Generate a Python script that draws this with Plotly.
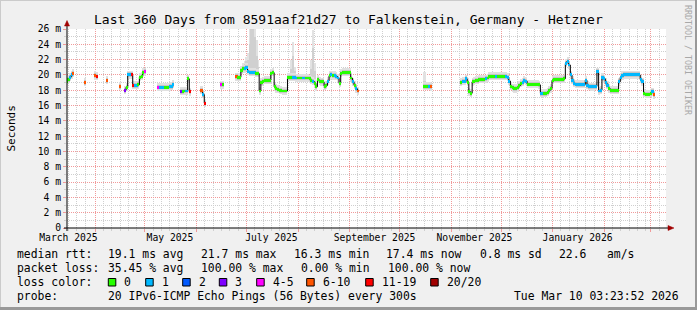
import plotly.graph_objects as go
import pandas as pd

# ---------------- data ----------------
START = pd.Timestamp("2025-03-15 03:23:52")
END = pd.Timestamp("2026-03-10 03:23:52")

# day offsets from START; an entry with None median marks a gap (100 % loss)
day_offset = [
    0, 1, 2, 3, 4, 5,
    11, 12,
    17, 18, 19,
    24, 25,
    32, 33,
    35, 36, 37, 38, 39, 40, 41, 42, 43, 44, 45, 46, 47, 48,
    55, 56, 57, 58, 59, 60, 61, 62, 63, 64, 65,
    69, 70, 71, 72, 73, 74, 75,
    81, 82, 83, 84,
    93, 94, 95,
    102, 103, 104, 105, 106, 107, 108, 109, 110, 111,
    112, 113, 114, 115, 116, 117, 118, 119, 120, 121,
    122, 123, 124, 125, 126, 127, 128, 129, 130, 131,
    132, 133, 134, 135, 136, 137, 138, 139, 140, 141,
    142, 143, 144, 145, 146, 147, 148, 149, 150, 151,
    152, 153, 154, 155, 156, 157, 158, 159, 160, 161,
    162, 163, 164, 165, 166, 167, 168, 169, 170, 171,
    172, 173, 174, 175, 176,
    215, 216, 217, 218, 219, 220,
    237, 238, 239, 240, 241, 242, 243, 244, 245, 246,
    247, 248, 249, 250, 251, 252, 253, 254, 255, 256,
    257, 258, 259, 260, 261, 262, 263, 264, 265, 266,
    267, 268, 269, 270, 271, 272, 273, 274, 275, 276,
    277, 278, 279, 280, 281, 282, 283, 284, 285, 286,
    287, 288, 289, 290, 291, 292, 293, 294, 295, 296,
    297, 298, 299, 300, 301, 302, 303, 304, 305, 306,
    307, 308, 309, 310, 311, 312, 313, 314, 315, 316,
    317, 318, 319, 320, 321, 322, 323, 324, 325, 326,
    327, 328, 329, 330, 331, 332, 333, 334, 335, 336,
    337, 338, 339, 340, 341, 342, 343, 344, 345, 346,
    347, 348, 349, 350, 351, 352, 353,
]

median_ms = [
    19.2, 19.4, 19.7, 20.0, 20.2, None,
    19.0, None,
    19.9, 19.8, None,
    19.3, None,
    18.5, None,
    18.0, 18.4, 20.0, 20.0, 20.0, 18.6, 18.6, 18.6, 18.7, 19.7, 19.8, 20.3, 20.4, None,
    18.4, 18.4, 18.4, 18.4, 18.4, 18.4, 18.4, 18.45, 18.5, 18.75, None,
    17.85, 17.85, 17.9, 17.9, 19.5, 17.8, None,
    18.0, 17.45, 16.3, None,
    18.7, 18.7, None,
    19.75, 19.7, 19.7, 20.6, 20.8, 20.8, 21.0, 20.5, 20.3, 20.3,
    20.3, 20.3, 20.2, 20.2, 17.9, 19.0, 19.2, 19.3, 19.3, 19.3,
    19.3, 20.2, 20.3, 18.45, 18.2, 18.1, 18.0, 17.95, 17.9, 17.9,
    17.9, 19.65, 19.7, 19.7, 19.65, 19.65, 19.6, 19.6, 19.6, 19.6,
    19.6, 19.6, 19.6, 19.6, 19.5, 19.3, 19.2, 18.9, 18.45, 19.4,
    19.2, 19.1, 19.1, 18.5, 18.6, 19.2, 19.9, 20.0, 19.9, 19.9,
    19.8, 19.6, 18.9, 20.2, 20.3, 20.3, 20.3, 20.3, 20.3, 19.6,
    19.1, 18.65, 18.2, 17.9, None,
    18.5, 18.5, 18.5, 18.5, 18.45, None,
    19.0, 19.2, 19.2, 19.5, 19.0, 17.8, 17.6, 19.1, 19.2, 19.3,
    19.3, 19.4, 19.4, 19.4, 19.4, 19.5, 19.6, 19.8, 19.8, 19.8,
    19.8, 19.8, 19.8, 19.8, 19.8, 19.8, 19.8, 19.8, 19.7, 19.2,
    18.5, 18.3, 18.2, 18.2, 18.3, 18.6, 18.9, 19.0, 19.3, 19.2,
    18.8, 18.8, 18.8, 18.8, 18.8, 18.8, 18.8, 18.7, 17.6, 17.6,
    17.6, 17.6, 17.7, 18.0, 18.2, 19.3, 19.4, 19.4, 19.4, 19.4,
    19.4, 19.4, 19.5, 21.5, 21.8, 21.3, 20.0, 19.3, 18.9, 18.8,
    18.75, 18.75, 18.75, 18.75, 18.75, 19.3, 18.6, 18.5, 18.45, 18.45,
    18.45, 18.5, 20.4, 17.9, 18.0, 19.7, 19.5, 19.0, 18.6, 18.2,
    18.0, 18.0, 18.0, 18.0, 18.0, 19.1, 19.7, 19.9, 20.0, 20.0,
    20.0, 20.0, 20.0, 20.0, 20.0, 20.0, 20.0, 20.0, 19.4, 19.1,
    17.6, 17.5, 17.5, 17.5, 17.6, 17.8, 17.4,
]

# pings lost out of 20 for each sample
lost_pings = [
    0, 0, 1, 1, 8, None,
    8, None,
    8, 15, None,
    8, None,
    8, None,
    3, 0, 1, 1, 15, 15, 1, 1, 0, 0, 0, 0, 5, None,
    5, 1, 1, 1, 0, 0, 0, 1, 1, 1, None,
    3, 0, 0, 1, 0, 15, None,
    8, 1, 15, None,
    5, 0, None,
    8, 0, 0, 0, 0, 1, 1, 1, 1, 1,
    1, 1, 0, 0, 0, 0, 0, 0, 0, 0,
    0, 0, 0, 0, 0, 0, 0, 0, 0, 0,
    0, 0, 0, 0, 1, 1, 1, 0, 0, 0,
    1, 1, 0, 0, 0, 0, 1, 0, 0, 0,
    0, 0, 0, 0, 0, 1, 0, 1, 0, 1,
    1, 1, 0, 0, 0, 0, 0, 0, 0, 0,
    1, 0, 1, 8, None,
    0, 0, 0, 1, 8, None,
    0, 1, 1, 1, 0, 0, 0, 0, 0, 0,
    0, 0, 0, 0, 0, 1, 0, 0, 0, 0,
    0, 1, 0, 0, 0, 0, 0, 1, 1, 1,
    0, 0, 0, 0, 0, 0, 0, 1, 1, 1,
    0, 0, 0, 0, 0, 0, 0, 0, 1, 1,
    0, 0, 0, 0, 0, 0, 0, 0, 0, 0,
    0, 0, 0, 1, 1, 1, 1, 1, 1, 1,
    1, 1, 1, 1, 1, 1, 1, 1, 1, 1,
    1, 1, 1, 1, 1, 1, 1, 1, 1, 0,
    0, 0, 0, 0, 0, 1, 1, 1, 1, 1,
    1, 1, 1, 1, 1, 1, 1, 1, 1, 1,
    0, 0, 0, 0, 0, 1, 8,
]

# tall smoke (ping spread) columns
spike_day = [106, 107, 108, 109, 110, 111, 112, 113, 114, 115, 135, 136, 137, 147, 148, 149, 215]
spike_low_ms = [20.4, 20.4, 20.6, 20.1, 19.9, 19.9, 19.9, 19.9, 19.8, 19.8, 19.3, 19.3, 19.3, 18.9, 18.8, 18.5, 18.1]
spike_high_ms = [21.5, 21.8, 22.3, 22.8, 26.5, 26.5, 26.5, 26.5, 24.5, 22.0, 22.0, 24.3, 21.0, 22.0, 25.9, 21.5, 20.4]
spike_core_ms = [21.2, 21.4, 21.8, 22.0, 24.0, 26.5, 26.5, 25.0, 22.5, 21.0, 20.8, 22.5, 20.5, 20.8, 23.5, 20.5, 19.2]

loss_upper = [0, 1, 2, 3, 5, 10, 19, 20]
loss_labels = ["0", "1", "2", "3", "4-5", "6-10", "11-19", "20/20"]
loss_colors = ["#26ff00", "#00b8ff", "#0059ff", "#7e00ff", "#ff00ff", "#ff5500", "#ff0000", "#a10000"]

y_tick_vals = [0, 2, 4, 6, 8, 10, 12, 14, 16, 18, 20, 22, 24, 26]
y_tick_text = ["0", "2 m", "4 m", "6 m", "8 m", "10 m", "12 m", "14 m", "16 m", "18 m",
               "20 m", "22 m", "24 m", "26 m"]
x_label_dates = ["2025-03-16", "2025-05-16", "2025-07-16", "2025-09-16", "2025-11-15", "2026-01-16"]
x_label_text = ["March 2025", "May 2025", "July 2025", "September 2025", "November 2025", "January 2026"]

title_text = "Last 360 Days from 8591aaf21d27 to Falkenstein, Germany - Hetzner"
legend_rows = [
    [(16.3, "median rtt:"), (107.3, "19.1 ms avg"), (200, "21.7 ms max"), (293.3, "16.3 ms min"),
     (385, "17.4 ms now"), (479.3, "0.8 ms sd"), (558.3, "22.6   am/s")],
    [(16.3, "packet loss:"), (107.3, "35.45 % avg"), (200, "100.00 % max"), (300, "0.00 % min"),
     (386.7, "100.00 % now")],
    [(16.3, "loss color:")],
    [(16.3, "probe:"), (107.3, "20 IPv6-ICMP Echo Pings (56 Bytes) every 300s"),
     (513.3, "Tue Mar 10 03:23:52 2026")],
]
legend_row_y = [254.3, 268.3, 282.3, 296.0]
swatch_x = [108.3, 145.7, 182.7, 219.3, 256.7, 306.7, 365.7, 430.7]

# ---------------- geometry / style ----------------
W, H = 697, 310
L, R, T, B = 67, 31, 29, 82
PW, PH = W - L - R, H - T - B
FONT = "DejaVu Sans Mono"
MAJOR = "#f19a9a"
MINOR = "#cfcfcf"
DAY_MS = 86400000


def pu(px):
    return (px - L) / PW


def pv(py):
    return (T + PH - py) / PH


def loss_color(n):
    for up, c in zip(loss_upper, loss_colors):
        if n <= up:
            return c
    return loss_colors[-1]


dates = [START + pd.Timedelta(days=d) for d in day_offset]
valid = [i for i, m in enumerate(median_ms) if m is not None]
vd = [dates[i] for i in valid]
vm = [median_ms[i] for i in valid]
vc = [loss_color(lost_pings[i]) for i in valid]
sd = [START + pd.Timedelta(days=d) for d in spike_day]

fig = go.Figure()
# smoke spikes
fig.add_trace(go.Bar(x=sd, base=spike_low_ms, y=[h - l for h, l in zip(spike_high_ms, spike_low_ms)],
                     width=DAY_MS, marker=dict(color="#e2e2e2", line=dict(width=0)), hoverinfo="skip"))
fig.add_trace(go.Bar(x=sd, base=spike_low_ms, y=[h - l for h, l in zip(spike_core_ms, spike_low_ms)],
                     width=DAY_MS, marker=dict(color="#d0d0d0", line=dict(width=0)), hoverinfo="skip"))
# smoke halo around median
fig.add_trace(go.Bar(x=vd, base=[m - 0.5 for m in vm], y=[1.05] * len(vm), width=DAY_MS,
                     marker=dict(color="#e0e0e0", line=dict(width=0)), hoverinfo="skip"))
fig.add_trace(go.Bar(x=vd, base=[m - 0.3 for m in vm], y=[0.62] * len(vm), width=DAY_MS,
                     marker=dict(color="#c6c6c6", line=dict(width=0)), hoverinfo="skip"))
# black median line
fig.add_trace(go.Scatter(x=dates, y=median_ms, mode="lines", line=dict(color="#000000", width=1, shape="hvh"),
                         connectgaps=False, hoverinfo="skip"))
# loss coloured median band (on overlay axes so it sits above the black line)
fig.add_trace(go.Bar(x=vd, base=[m - 0.19 for m in vm], y=[0.38] * len(vm), width=DAY_MS,
                     marker=dict(color=vc, line=dict(width=0)), xaxis="x2", yaxis="y2", hoverinfo="skip"))

month_starts = pd.date_range("2025-04-01", "2026-03-01", freq="MS")
minor_days = [m + pd.Timedelta(days=k) for m in pd.date_range("2025-03-01", "2026-03-01", freq="MS")
              for k in (5, 10, 15, 20, 25)]
minor_days = [d for d in minor_days if START < d < END]

fig.update_layout(
    width=W, height=H, template="none",
    margin=dict(l=L, r=R, t=T, b=B, pad=0, autoexpand=False),
    paper_bgcolor="#f0f0f0", plot_bgcolor="#ffffff",
    barmode="overlay", bargap=0, showlegend=False, hovermode=False,
    font=dict(family=FONT, size=11.4, color="#000000"),
    xaxis=dict(type="date", range=[START, END], tickmode="array", tickvals=list(month_starts),
               showticklabels=False, showgrid=True, gridcolor=MAJOR, griddash="1px,1px", gridwidth=1,
               ticks="outside", ticklen=3, tickcolor=MAJOR, tickwidth=1,
               showline=False, zeroline=False, automargin=False, fixedrange=True,
               minor=dict(tickmode="array", tickvals=minor_days, showgrid=True, gridcolor=MINOR,
                          griddash="1px,1px", gridwidth=1, ticks="outside", ticklen=2, tickcolor=MINOR)),
    yaxis=dict(range=[0, 26], tickmode="array", tickvals=y_tick_vals, ticktext=y_tick_text,
               tickfont=dict(family=FONT, size=9.7, color="#000"),
               showgrid=True, gridcolor=MAJOR, griddash="1px,1px", gridwidth=1,
               ticks="outside", ticklen=3, tickcolor=MAJOR, tickwidth=1,
               showline=False, zeroline=False, automargin=False, fixedrange=True,
               minor=dict(dtick=1, tick0=0, showgrid=True, gridcolor=MINOR, griddash="1px,1px",
                          gridwidth=1, ticks="outside", ticklen=2, tickcolor=MINOR)),
    xaxis2=dict(type="date", overlaying="x", anchor="y2", range=[START, END], tickmode="array",
                tickvals=x_label_dates, ticktext=x_label_text, ticks="", showgrid=False,
                zeroline=False, showline=False, automargin=False, fixedrange=True,
                ticklabelstandoff=2,
                tickfont=dict(family=FONT, size=9.7, color="#000")),
    yaxis2=dict(overlaying="y", anchor="x2", range=[0, 26], visible=False, fixedrange=True),
)

shapes = []
# 3D frame
shapes.append(dict(type="line", xref="paper", yref="paper", x0=pu(0), x1=pu(W), y0=pv(0.5), y1=pv(0.5),
                   line=dict(color="#cbcbcb", width=1)))
shapes.append(dict(type="line", xref="paper", yref="paper", x0=pu(0.5), x1=pu(0.5), y0=pv(0), y1=pv(H),
                   line=dict(color="#cbcbcb", width=1)))
shapes.append(dict(type="line", xref="paper", yref="paper", x0=pu(0), x1=pu(W), y0=pv(H - 1.5), y1=pv(H - 1.5),
                   line=dict(color="#999999", width=3)))
shapes.append(dict(type="line", xref="paper", yref="paper", x0=pu(W - 1), x1=pu(W - 1), y0=pv(0), y1=pv(H),
                   line=dict(color="#999999", width=2)))
# axes
shapes.append(dict(type="line", xref="paper", yref="paper", x0=pu(64), x1=pu(669), y0=0, y1=0,
                   line=dict(color="#000000", width=1)))
shapes.append(dict(type="line", xref="paper", yref="paper", x0=0, x1=0, y0=pv(231), y1=pv(25),
                   line=dict(color="#000000", width=1)))
ARROW = "#a00000"
shapes.append(dict(type="path", xref="paper", yref="paper",
                   path=f"M {pu(668)} {pv(225.5)} L {pu(674)} {pv(228)} L {pu(668)} {pv(230.5)} Z",
                   fillcolor=ARROW, line=dict(color=ARROW, width=0.5)))
shapes.append(dict(type="path", xref="paper", yref="paper",
                   path=f"M {pu(64.5)} {pv(26)} L {pu(67)} {pv(20.5)} L {pu(69.5)} {pv(26)} Z",
                   fillcolor=ARROW, line=dict(color=ARROW, width=0.5)))
# loss colour swatches
for sx, col in zip(swatch_x, loss_colors):
    shapes.append(dict(type="rect", xref="paper", yref="paper", x0=pu(sx), x1=pu(sx + 7.5),
                       y0=pv(286), y1=pv(278.5), fillcolor=col, line=dict(color="#000000", width=1)))
fig.update_layout(shapes=shapes)

ann = []
ann.append(dict(text=title_text, x=pu(348), y=pv(19.5), xref="paper", yref="paper", showarrow=False,
                xanchor="center", yanchor="middle", font=dict(family=FONT, size=13, color="#000")))
ann.append(dict(text="Seconds", x=pu(11), y=pv(128.5), xref="paper", yref="paper", showarrow=False,
                textangle=-90, xanchor="center", yanchor="middle", font=dict(family=FONT, size=11, color="#000")))
ann.append(dict(text="RRDTOOL / TOBI OETIKER", x=pu(688), y=pv(60), xref="paper", yref="paper",
                showarrow=False, textangle=90, xanchor="center", yanchor="middle",
                font=dict(family=FONT, size=8.3, color="#a8a8a8")))
for row, ry in zip(legend_rows, legend_row_y):
    for px, txt in row:
        ann.append(dict(text=txt.replace(" ", "&nbsp;"), x=pu(px), y=pv(ry), xref="paper", yref="paper",
                        showarrow=False, xanchor="left", yanchor="middle", borderpad=0,
                        font=dict(family=FONT, size=11.4, color="#000")))
for sx, lab in zip(swatch_x, loss_labels):
    ann.append(dict(text=lab, x=pu(sx + 15), y=pv(legend_row_y[2]), xref="paper", yref="paper",
                    showarrow=False, xanchor="left", yanchor="middle", borderpad=0,
                    font=dict(family=FONT, size=11.4, color="#000")))
fig.update_layout(annotations=ann)

fig.write_html("out.html")
